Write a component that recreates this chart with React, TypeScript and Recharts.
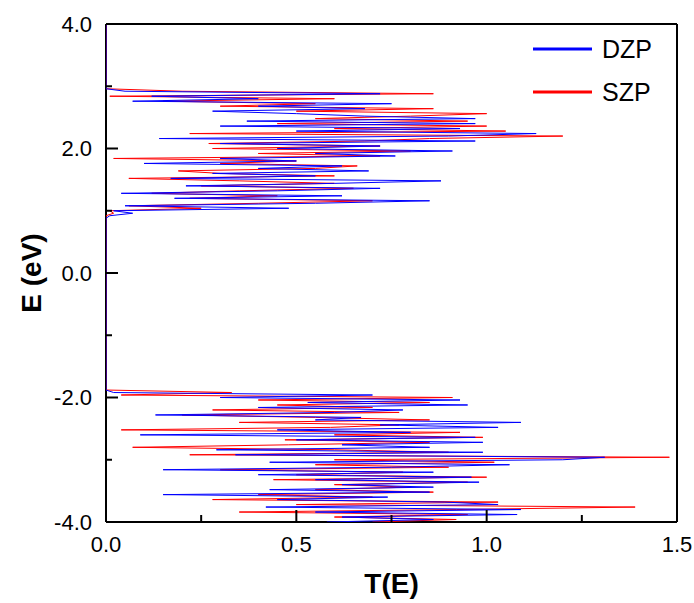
import React from "react";
import { LineChart, Line, XAxis, YAxis, ReferenceLine, Legend, Label } from "recharts";

// energy grid (eV), valence band then conduction band, plus the top edge
const energyLower = [
  -4.0, -3.96, -3.92, -3.88, -3.84, -3.8, -3.76, -3.72, -3.68, -3.64, -3.6, -3.56, -3.52, -3.48,
  -3.44, -3.4, -3.36, -3.32, -3.28, -3.24, -3.2, -3.16, -3.12, -3.08, -3.04, -3.0, -2.96, -2.92,
  -2.88, -2.84, -2.8, -2.76, -2.72, -2.68, -2.64, -2.6, -2.56, -2.52, -2.48, -2.44, -2.4, -2.36,
  -2.32, -2.28, -2.24, -2.2, -2.16, -2.12, -2.08, -2.04, -2.0, -1.96, -1.92, -1.88,
];
const energyUpper = [
  0.88, 0.92, 0.96, 1.0, 1.04, 1.08, 1.12, 1.16, 1.2, 1.24, 1.28, 1.32, 1.36, 1.4, 1.44, 1.48,
  1.52, 1.56, 1.6, 1.64, 1.68, 1.72, 1.76, 1.8, 1.84, 1.88, 1.92, 1.96, 2.0, 2.04, 2.08, 2.12,
  2.16, 2.2, 2.24, 2.28, 2.32, 2.36, 2.4, 2.44, 2.48, 2.52, 2.56, 2.6, 2.64, 2.68, 2.72, 2.76,
  2.8, 2.84, 2.88, 2.92, 2.96,
];
const energyTop = [4.0];

const dzpLower = [
  0.58, 0.86, 0.62, 1.08, 0.55, 1.09, 0.42, 1.03, 0.89, 0.45, 0.74, 0.15, 0.85, 0.43, 0.86, 0.62,
  0.98, 0.55, 0.96, 0.4, 0.86, 0.15, 0.75, 1.06, 0.43, 1.2, 1.31, 0.34, 0.99, 0.29, 0.85, 0.62,
  0.99, 0.5, 0.97, 0.09, 0.8, 0.45, 1.03, 0.72, 1.09, 0.55, 0.67, 0.13, 0.6, 0.78, 0.4, 0.95,
  0.53, 0.93, 0.3, 0.7, 0.02, 0,
];
const dzpUpper = [
  0, 0.01, 0.07, 0.02, 0.48, 0.05, 0.55, 0.85, 0.18, 0.62, 0.04, 0.45, 0.72, 0.21, 0.6, 0.88,
  0.17, 0.55, 0.28, 0.69, 0.4, 0.62, 0.1, 0.5, 0.3, 0.76, 0.55, 0.91, 0.45, 0.72, 0.3, 0.97,
  0.14, 0.9, 1.13, 0.5, 0.93, 0.3, 0.97, 0.37, 0.97, 0.68, 0.5, 0.28, 0.68, 0.4, 0.75, 0.07,
  0.4, 0.12, 0.72, 0.05, 0,
];
const szpLower = [
  0.7, 0.92, 0.6, 0.95, 0.35, 0.92, 1.39, 0.5, 1.03, 0.28, 0.7, 0.4, 0.86, 0.55, 0.8, 0.6,
  0.95, 0.44, 1.0, 0.5, 0.78, 0.3, 0.9, 0.55, 1.02, 0.6, 1.48, 0.22, 0.9, 0.6, 0.07, 0.48,
  0.85, 0.47, 0.99, 0.6, 0.93, 0.04, 0.59, 0.77, 0.35, 0.85, 0.55, 0.2, 0.77, 0.28, 0.7, 0.45,
  0.85, 0.4, 0.91, 0.04, 0.33, 0,
];
const szpUpper = [
  0, 0, 0.02, 0.01, 0.25, 0.06, 0.4, 0.7, 0.22, 0.45, 0.12, 0.35, 0.65, 0.25, 0.6, 0.35,
  0.06, 0.6, 0.3, 0.19, 0.55, 0.66, 0.3, 0.5, 0.02, 0.72, 0.4, 0.8, 0.28, 0.72, 0.27, 0.68,
  0.85, 1.2, 0.22, 1.05, 0.6, 1.0, 0.45, 0.95, 0.55, 0.8, 1.0, 0.5, 0.86, 0.3, 0.55, 0.15,
  0.6, 0.01, 0.86, 0.2, 0,
];
const topValues = [0];

const xTicks = [0, 0.25, 0.5, 0.75, 1.0, 1.25, 1.5];
const yTicks = [-4, -3, -2, -1, 0, 1, 2, 3, 4];

const energies = [...energyLower, ...energyUpper, ...energyTop];
const dzp = [...dzpLower, ...dzpUpper, ...topValues];
const szp = [...szpLower, ...szpUpper, ...topValues];
const data = energies.map((E, i) => ({ E, dzp: dzp[i], szp: szp[i] }));

const FONT = "Arial, 'Liberation Sans', sans-serif";

function YTick({ x, y, payload }: any) {
  const v = payload.value;
  const major = Math.abs(v % 2) < 1e-6;
  return (
    <g>
      <line x1={x} y1={y} x2={x + (major ? 12 : 6)} y2={y} stroke="#000" strokeWidth={2} />
      {major && (
        <text x={x - 14} y={y} textAnchor="end" dominantBaseline="central" fontFamily={FONT} fontSize={22} fill="#000">
          {v.toFixed(1)}
        </text>
      )}
    </g>
  );
}

function XTick({ x, y, payload }: any) {
  const v = payload.value;
  const major = Math.abs((v * 2) % 1) < 1e-6;
  return (
    <g>
      <line x1={x} y1={y} x2={x} y2={y - (major ? 12 : 7)} stroke="#000" strokeWidth={2} />
      {major && (
        <text x={x} y={y + 22} textAnchor="middle" dominantBaseline="central" fontFamily={FONT} fontSize={22} fill="#000">
          {v.toFixed(1)}
        </text>
      )}
    </g>
  );
}

function LegendBox() {
  const rows = [
    { name: "DZP", color: "#0000ff" },
    { name: "SZP", color: "#ff0000" },
  ];
  return (
    <svg width={150} height={80}>
      {rows.map((r, i) => (
        <g key={r.name}>
          <line x1={3} x2={62} y1={20 + i * 43} y2={20 + i * 43} stroke={r.color} strokeWidth={3} />
          <text x={72} y={20 + i * 43} dominantBaseline="central" fontFamily={FONT} fontSize={25} fill="#000">
            {r.name}
          </text>
        </g>
      ))}
    </svg>
  );
}

export default function App() {
  return (
    <div style={{ position: "absolute", left: 0, top: 0 }}>
      <LineChart
        width={694}
        height={603}
        data={data}
        layout="vertical"
        margin={{ top: 24, right: 17, bottom: 0, left: 0 }}
      >
        <XAxis
          type="number"
          domain={[0, 1.5]}
          ticks={xTicks}
          interval={0}
          height={81}
          tickSize={0}
          tickMargin={0}
          tick={<XTick />}
          axisLine={{ stroke: "#000", strokeWidth: 2 }}
          allowDataOverflow
        >
          <Label
            content={({ viewBox }: any) => (
              <text
                x={viewBox.x + viewBox.width / 2}
                y={viewBox.y + 61}
                textAnchor="middle"
                dominantBaseline="central"
                fontFamily={FONT}
                fontWeight="bold"
                fontSize={28}
                fill="#000"
              >
                T(E)
              </text>
            )}
          />
        </XAxis>
        <YAxis
          type="number"
          dataKey="E"
          domain={[-4, 4]}
          ticks={yTicks}
          interval={0}
          width={106}
          reversed
          tickSize={0}
          tickMargin={0}
          tick={<YTick />}
          axisLine={{ stroke: "#000", strokeWidth: 2 }}
          allowDataOverflow
        >
          <Label
            content={({ viewBox }: any) => {
              const cx = viewBox.x + 31;
              const cy = viewBox.y + viewBox.height / 2;
              return (
                <text
                  x={cx}
                  y={cy}
                  transform={`rotate(-90 ${cx} ${cy})`}
                  textAnchor="middle"
                  dominantBaseline="central"
                  fontFamily={FONT}
                  fontWeight="bold"
                  fontSize={28}
                  fill="#000"
                >
                  E (eV)
                </text>
              );
            }}
          />
        </YAxis>
        <ReferenceLine y={4} stroke="#000" strokeWidth={2} />
        <ReferenceLine x={1.5} stroke="#000" strokeWidth={2} />
        <Line
          dataKey="szp"
          name="SZP"
          stroke="#ff0000"
          strokeWidth={1}
          dot={false}
          isAnimationActive={false}
          zIndex={900}
        />
        <Line
          dataKey="dzp"
          name="DZP"
          stroke="#0000ff"
          strokeWidth={1}
          dot={false}
          isAnimationActive={false}
          zIndex={901}
        />
        <Legend
          layout="vertical"
          align="center"
          verticalAlign="middle"
          wrapperStyle={{ left: 530, top: 29, width: 150 }}
          content={<LegendBox />}
        />
      </LineChart>
    </div>
  );
}
